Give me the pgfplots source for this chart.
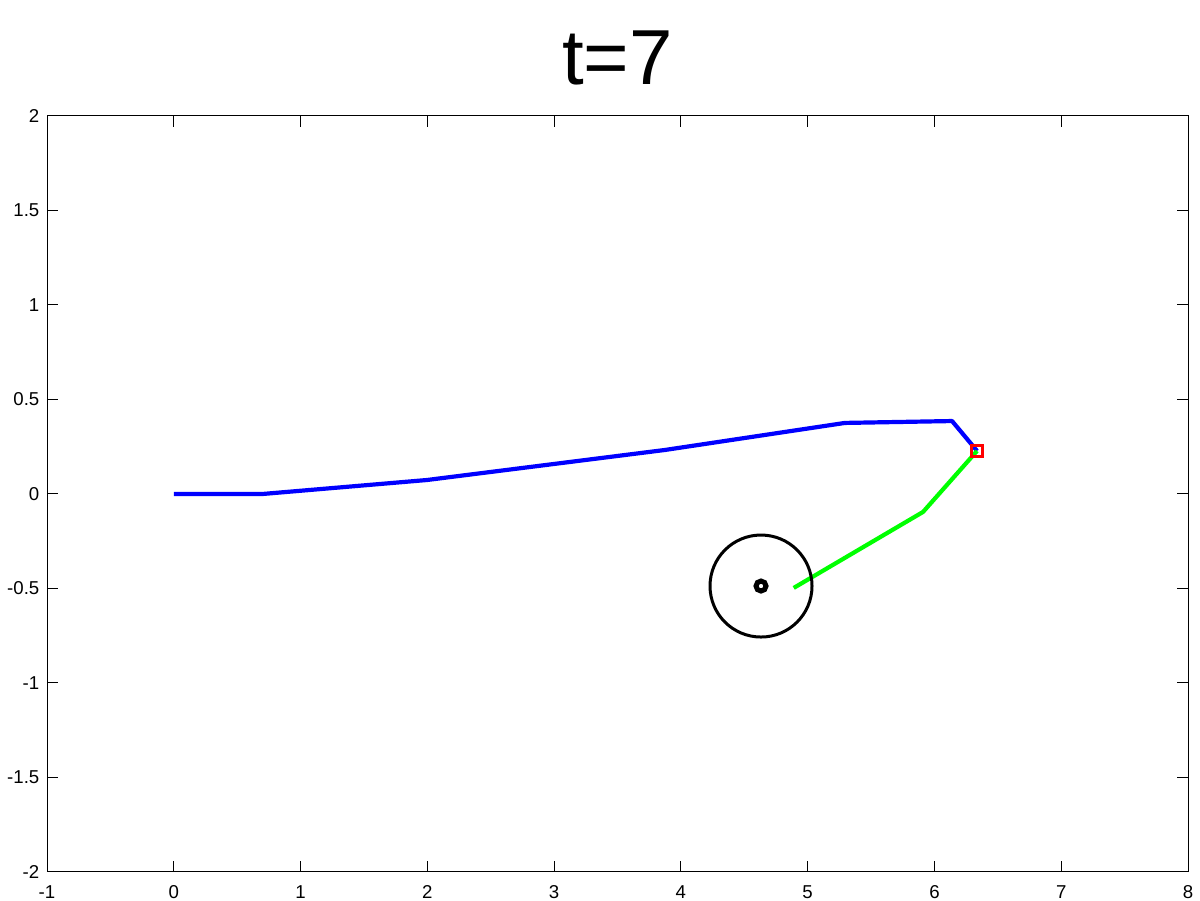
\documentclass[border=0pt]{standalone}
\usepackage{fontspec}
\setmainfont{Liberation Sans}
\usepackage{pgfplots}
\pgfplotsset{compat=1.18}
\begin{document}
\begin{tikzpicture}
\begin{axis}[
  at={(0.47cm,0.29cm)}, anchor=south west,
  scale only axis, width=11.41cm, height=7.56cm,
  xmin=-1, xmax=8, ymin=-2, ymax=2,
  xtick={-1,0,1,2,3,4,5,6,7,8},
  xticklabels={-1,0,1,2,3,4,5,6,7,8},
  ytick={-2,-1.5,-1,-0.5,0,0.5,1,1.5,2},
  yticklabels={-2,-1.5,-1,-0.5,0,0.5,1,1.5,2},
  tick align=inside, major tick length=1.1mm,
  every tick/.style={black, line width=0.1mm},
  axis line style={line width=0.1mm},
  xticklabel style={font=\fontsize{5.3}{6}\selectfont, inner sep=0pt, anchor=north, yshift=-1.3mm},
  yticklabel style={font=\fontsize{5.3}{6}\selectfont, inner sep=0pt, anchor=east, xshift=-0.7mm},
  title={t=7},
  title style={font=\fontsize{22.2}{26}\selectfont, at={(0.5,1)}, anchor=base, yshift=1.0mm, inner sep=0pt},
  clip=false,
]
\addplot[blue, line width=0.42mm, line join=round] coordinates {
  (0,0) (0.70,0) (1.997,0.074) (3.875,0.233) (5.294,0.376) (6.139,0.386) (6.336,0.228)
};
\addplot[color={rgb,255:red,0;green,255;blue,0}, line width=0.42mm, line join=round] coordinates {
  (6.336,0.228) (5.91,-0.095) (4.89,-0.497)
};
\addplot[only marks, mark=o, mark size=5.1mm, mark options={black, line width=0.3mm}] coordinates {(4.632,-0.487)};
\addplot[only marks, mark=o, mark size=0.5mm, mark options={black, line width=0.5mm}] coordinates {(4.632,-0.487)};
\addplot[only marks, mark=square, mark size=0.55mm, mark options={red, line width=0.35mm}] coordinates {(6.336,0.228)};
\end{axis}
\pgfresetboundingbox
\path (0,0) rectangle (12cm,9.01cm);
\end{tikzpicture}
\end{document}
